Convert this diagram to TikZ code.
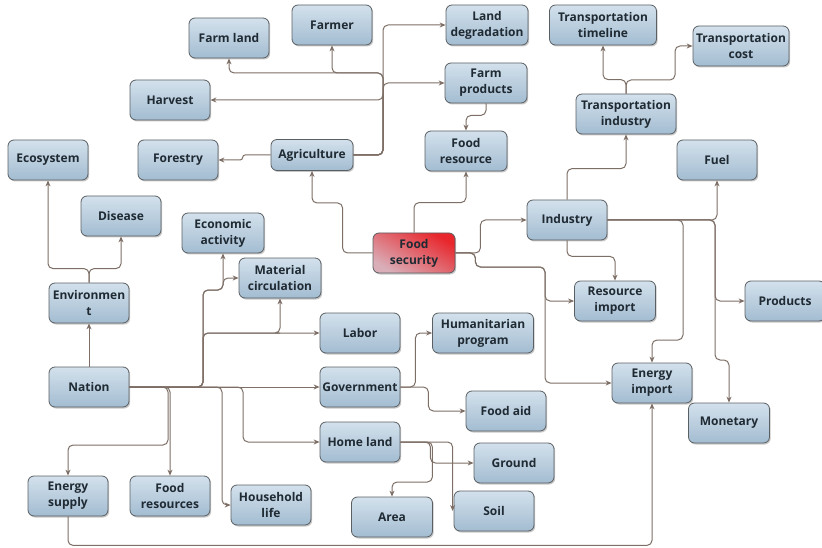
\documentclass[tikz,border=0pt]{standalone}
\usepackage{fontspec}
\setmainfont{Open Sans}
\usetikzlibrary{arrows.meta,shadows,calc}
\definecolor{boxtop}{HTML}{D3E1EC}
\definecolor{boxbot}{HTML}{A3BCD1}
\definecolor{boxline}{HTML}{5A5F63}
\definecolor{conncol}{HTML}{7D6E66}
\definecolor{fsred}{HTML}{E8262C}
\definecolor{fspink}{HTML}{D9AEB8}
\definecolor{txt}{HTML}{1F2A33}
\tikzset{
  box/.style={draw=boxline, line width=0.8pt, rounded corners=6pt,
    top color=boxtop, bottom color=boxbot,
    drop shadow={shadow xshift=1.2pt, shadow yshift=-1.5pt, fill=black, opacity=0.22},
    minimum width=80pt, minimum height=40pt, inner sep=1pt, align=center,
    font=\fontsize{12}{16}\selectfont\bfseries, text=txt},
  redbox/.style={box, top color=fsred, bottom color=fspink, shading angle=-30},
  conn/.style={draw=conncol, line width=1pt, rounded corners=5pt,
    -{Stealth[length=6pt,width=5pt]}}
}
\begin{document}
\begin{tikzpicture}[x=1pt,y=-1pt]
\useasboundingbox (0,0) rectangle (822,548);
% nodes
\node[box] (farmland) at (229,38) {Farm land};
\node[box] (farmer) at (332,25) {Farmer};
\node[box, minimum width=82pt] (landdeg) at (487,25) {Land\\degradation};
\node[box] (harvest) at (170,100) {Harvest};
\node[box, minimum width=82pt] (farmprod) at (486,83) {Farm\\products};
\node[box, minimum width=82pt, minimum height=31pt] (agri) at (312,155) {Agriculture};
\node[box] (forestry) at (178,160) {Forestry};
\node[box, minimum width=82pt] (foodres) at (466,151) {Food\\resource};
\node[box] (eco) at (48,160) {Ecosystem};
\node[box] (disease) at (121,216) {Disease};
\node[box, minimum width=82pt] (econ) at (223,233) {Economic\\activity};
\node[box, minimum width=82pt] (matcirc) at (280,278) {Material\\circulation};
\node[box] (env) at (89,303) {Environmen\\t};
\node[redbox, minimum width=82pt] (foodsec) at (414,253) {Food\\security};
\node[box] (industry) at (567,220) {Industry};
\node[box] (fuel) at (717,160) {Fuel};
\node[box, minimum width=107pt] (transtime) at (603,25) {Transportation\\timeline};
\node[box, minimum width=96pt] (transcost) at (741,46) {Transportation\\cost};
\node[box, minimum width=100pt] (transind) at (626,114) {Transportation\\industry};
\node[box, minimum width=81pt] (resimp) at (615,301) {Resource\\import};
\node[box] (products) at (785,301) {Products};
\node[box] (labor) at (360,333) {Labor};
\node[box, minimum width=101pt] (human) at (483,333) {Humanitarian\\program};
\node[box] (gov) at (360,387) {Government};
\node[box] (foodaid) at (506,411) {Food aid};
\node[box] (enimp) at (652,383) {Energy\\import};
\node[box, minimum width=81pt] (monetary) at (729,423) {Monetary};
\node[box] (nation) at (89,387) {Nation};
\node[box] (homeland) at (360,442) {Home land};
\node[box] (ground) at (514,463) {Ground};
\node[box, minimum width=81pt] (area) at (392,517) {Area};
\node[box] (soil) at (494,511) {Soil};
\node[box] (ensup) at (68,496) {Energy\\supply};
\node[box] (foodress) at (170,496) {Food\\resources};
\node[box] (household) at (271,505) {Household\\life};
% helper coordinates
\coordinate (ay) at (383,73);
\coordinate (ah) at (383,98);
\coordinate (fsj) at (545,267);
\coordinate (tcj) at (675,80);
\coordinate (eij) at (683,340);
\coordinate (pj) at (715,240);
\coordinate (mj) at (715,360);
\coordinate (nj1) at (203,290);
\coordinate (nj2) at (223,290);
\coordinate (nj3) at (203,345);
\coordinate (mj2) at (275,333);
\coordinate (nj4) at (168,445);
\coordinate (nj5) at (222,450);
\coordinate (nj6) at (243,420);
% connectors: agriculture cluster
\draw[conn, rounded corners=2.5pt] (agri.west) -- ++(-28,0) |- (forestry.east);
\draw[conn] (agri.east) -| (ay) |- (landdeg.west);
\draw[conn] (agri.east) -| (ah) |- (farmprod.west);
\draw[conn] (agri.east) -| (ay) -| (farmer.south);
\draw[conn] (agri.east) -| (ay) -| (farmland.south);
\draw[conn] (agri.east) -| (ah) |- (harvest.east);
\draw[conn] (farmprod.south) -- ++(0,12) -| (foodres.north);
% food security
\draw[conn] (foodsec.north) -- ++(0,-30) -| (foodres.south);
\draw[conn] (foodsec.west) -- ++(-30,0) -- ++(0,-50) -| (agri.south);
\draw[conn] (foodsec.east) -- ++(25,0) |- (industry.west);
\draw[conn] (foodsec.east) -- ++(20,0) |- (fsj) |- (resimp.west);
\draw[conn] (foodsec.east) -- ++(20,0) |- (fsj) |- (enimp.west);
% industry
\draw[conn] (industry.south) -- ++(0,16) -| (resimp.north);
\draw[conn] (industry.north) -- ++(0,-31) -| (transind.south);
\draw[conn] (transind.north) -- ++(0,-14) -| (transtime.south);
\draw[conn] (transind.north) |- (tcj) |- (transcost.west);
\draw[conn] (industry.east) -| (fuel.south);
\draw[conn] (industry.east) -| (eij) -| (enimp.north);
\draw[conn] (industry.east) -| (pj) |- (products.west);
\draw[conn] (industry.east) -| (mj) -| (monetary.north);
\draw[conn] (ensup.south) -- ++(0,29) -| (enimp.south);
% environment / nation
\draw[conn] (env.north) -- ++(0,-14) -| (eco.south);
\draw[conn] (env.north) -- ++(0,-14) -| (disease.south);
\draw[conn] (nation.north) -- (env.south);
\draw[conn] (nation.east) -- (gov.west);
\draw[conn] (nation.east) -| (nj1) -| (econ.south);
\draw[conn] (nation.east) -| (nj1) -- (nj2) |- (matcirc.west);
\draw[conn] (nation.east) -| (nj3) |- (labor.west);
\draw[conn] (nation.east) -| (nj3) |- (mj2) -| (matcirc.south);
\draw[conn] (nation.east) -| (nj4) -| (ensup.north);
\draw[conn] (nation.east) -| (foodress.north);
\draw[conn] (nation.east) -| (nj5) |- (household.west);
\draw[conn] (nation.east) -| (nj6) |- (homeland.west);
% government / home land
\draw[conn] (gov.east) -- ++(15,0) |- (human.west);
\draw[conn] (gov.east) -- ++(28,0) |- (foodaid.west);
\draw[conn] (homeland.east) -- ++(30,0) |- (ground.west);
\draw[conn] (homeland.east) -- ++(32,0) -- ++(0,40) -| (area.north);
\draw[conn] (homeland.east) -| ([xshift=-1pt]soil.west);
\end{tikzpicture}
\end{document}
